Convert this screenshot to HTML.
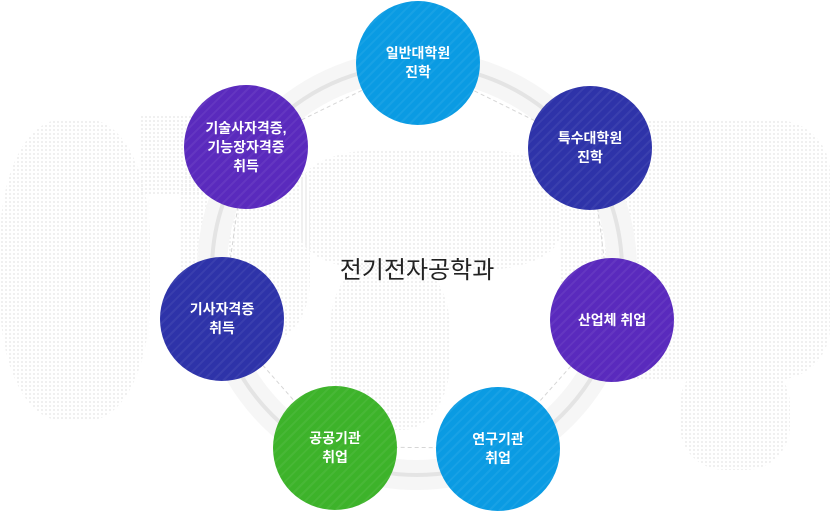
<!DOCTYPE html>
<html><head><meta charset="utf-8"><style>
body{margin:0;width:830px;height:511px;background:#fff;overflow:hidden;position:relative;font-family:"Liberation Sans","Noto Sans CJK KR",sans-serif}
.dots{position:absolute;background-image:radial-gradient(circle,#eeeeee 0.9px,transparent 1.2px);background-size:4px 4px}
.c{position:absolute;width:124px;height:124px;border-radius:50%;color:#fff;font-size:14px;line-height:19px;display:flex;align-items:center;justify-content:center;text-align:center;font-weight:bold;
background-image:repeating-linear-gradient(135deg,rgba(255,255,255,0) 0 5px,rgba(255,255,255,.06) 5px 7px)}
</style></head><body>
<div class="dots" style="left:0;top:120px;width:150px;height:300px;border-radius:40%"></div>
<div class="dots" style="left:140px;top:115px;width:100px;height:80px"></div>
<div class="dots" style="left:180px;top:140px;width:130px;height:200px;border-radius:30%"></div>
<div class="dots" style="left:300px;top:150px;width:260px;height:120px;border-radius:30%"></div>
<div class="dots" style="left:330px;top:260px;width:120px;height:170px;border-radius:40%"></div>
<div class="dots" style="left:560px;top:120px;width:270px;height:260px;border-radius:20%"></div>
<div class="dots" style="left:680px;top:360px;width:110px;height:110px;border-radius:40%"></div>
<svg width="830" height="511" style="position:absolute;left:0;top:0">
<circle cx="417" cy="270" r="205" fill="none" stroke="#f6f6f6" stroke-width="30"/>
<circle cx="417" cy="270" r="205" fill="none" stroke="#e4e4e4" stroke-width="4"/>
<polygon points="418,63 590,148 612,320 498,448 335,447 222,319 246,147" fill="none" stroke="#d6d6d6" stroke-dasharray="4,3"/>
</svg>
<div style="position:absolute;left:317px;top:250px;width:200px;text-align:center;font-size:24px;color:#222">전기전자공학과</div>
<div class="c" style="left:356px;top:1px;background-color:#0a9be3">일반대학원<br>진학</div>
<div class="c" style="left:528px;top:86px;background-color:#2e33a9">특수대학원<br>진학</div>
<div class="c" style="left:550px;top:258px;background-color:#5a2abd">산업체 취업</div>
<div class="c" style="left:436px;top:387px;background-color:#0a9be3">연구기관<br>취업</div>
<div class="c" style="left:273px;top:386px;background-color:#3db32a">공공기관<br>취업</div>
<div class="c" style="left:160px;top:257px;background-color:#2e33a9">기사자격증<br>취득</div>
<div class="c" style="left:184px;top:85px;background-color:#5a2abd">기술사자격증,<br>기능장자격증<br>취득</div>
</body></html>
